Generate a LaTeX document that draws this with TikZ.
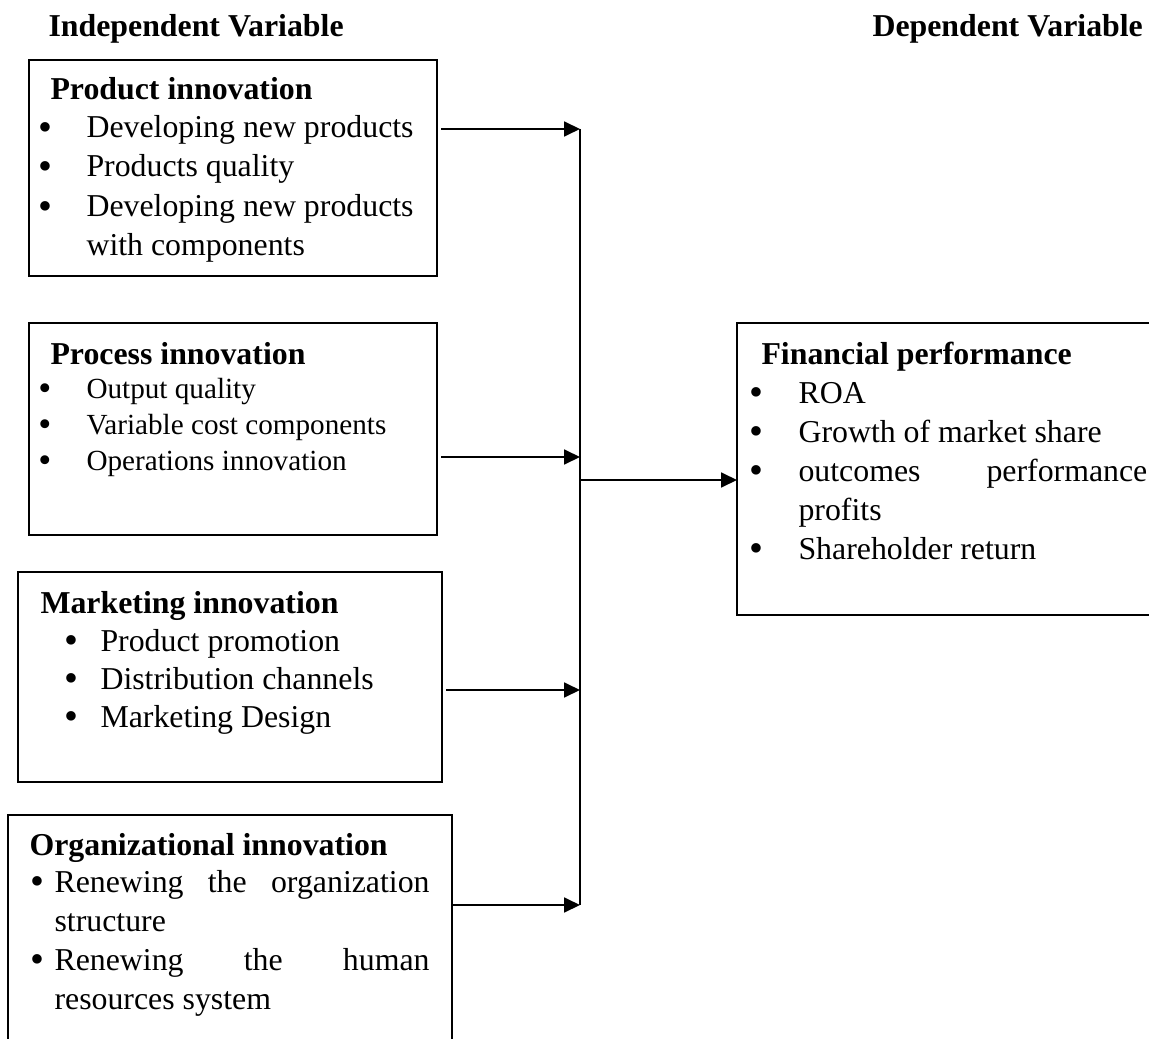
\documentclass[tikz,border=0pt]{standalone}
\usepackage{fontspec}
\setmainfont{Liberation Serif}
\usetikzlibrary{arrows.meta}

\tikzset{
  box/.style={draw, line width=0.7pt},
  conn/.style={line width=0.8pt},
  arr/.style={conn, -{Triangle[length=6pt,width=5.6pt]}},
  txt/.style={anchor=base west, inner sep=0pt, font=\fontsize{12}{14}\selectfont},
  small/.style={txt, font=\fontsize{11}{13}\selectfont},
  hd/.style={txt, font=\fontsize{12}{14}\selectfont\bfseries},
  dot/.style={anchor=base, inner sep=0pt, yshift=-1.1pt, font=\fontsize{15}{14}\selectfont},
  smalldot/.style={dot, font=\fontsize{14}{13}\selectfont}
}

\begin{document}
\begin{tikzpicture}[x=0.377pt,y=-0.377pt]
\clip (0,0) rectangle (1149,1038);

% headings
\node[hd] (indep) at (48,37) {Independent Variable};
\node[hd] (dep) at (872,37) {Dependent Variable};

% product innovation
\draw[box] (29,60) rectangle (437,276);
\node[hd] (prodT) at (50,100) {Product innovation};
\foreach \t/\y [count=\i] in {Developing new products/138,Products quality/177,Developing new products/217}{
  \node[dot] (prodB\i) at (45,\y) {\textbullet};
  \node[txt] (prod\i) at (86,\y) {\t};
}
\node[txt] (prod4) at (86,256) {with components};

% process innovation
\draw[box] (29,323) rectangle (437,535);
\node[hd] (procT) at (50,365) {Process innovation};
\foreach \t/\y [count=\i] in {Output quality/398,Variable cost components/434,Operations innovation/470}{
  \node[smalldot] (procB\i) at (45,\y) {\textbullet};
  \node[small] (proc\i) at (86,\y) {\t};
}

% marketing innovation
\draw[box] (18,572) rectangle (442,782);
\node[hd] (markT) at (40,613) {Marketing innovation};
\foreach \t/\y [count=\i] in {Product promotion/651,Distribution channels/689,Marketing Design/727}{
  \node[dot] (markB\i) at (71,\y) {\textbullet};
  \node[txt] (mark\i) at (100,\y) {\t};
}

% organizational innovation
\draw[box] (8,815) rectangle (452,1060);
\node[hd] (orgT) at (29,855) {Organizational innovation};
\node[dot] (orgB1) at (37,892) {\textbullet};
\node[txt] (org1) at (54,892) {\makebox[141.4pt][s]{Renewing the organization}};
\node[txt] (org2) at (54,931) {structure};
\node[dot] (orgB2) at (37,970) {\textbullet};
\node[txt] (org3) at (54,970) {\makebox[141.4pt][s]{Renewing the human}};
\node[txt] (org4) at (54,1009) {resources system};

% financial performance
\draw[box] (737,323) rectangle (1170,615);
\node[hd] (finT) at (761,365) {Financial performance};
\node[dot] (finB1) at (756,403) {\textbullet};
\node[txt] (fin1) at (798,403) {ROA};
\node[dot] (finB2) at (756,442) {\textbullet};
\node[txt] (fin2) at (798,442) {Growth of market share};
\node[dot] (finB3) at (756,481) {\textbullet};
\node[txt] (fin3) at (798,481) {\makebox[131.5pt][s]{outcomes performance}};
\node[txt] (fin4) at (798,520) {profits};
\node[dot] (finB4) at (756,559) {\textbullet};
\node[txt] (fin5) at (798,559) {Shareholder return};

% connectors
\coordinate (prodR) at (441,129);
\coordinate (procR) at (441,457);
\coordinate (markR) at (446,690);
\coordinate (orgR) at (452,905);
\coordinate (busT) at (580,129);
\coordinate (busB) at (580,905);
\coordinate (busM) at (580,480);
\coordinate (finL) at (737,480);
\draw[arr] (prodR) -- (busT);
\draw[arr] (procR) -- (busT |- procR);
\draw[arr] (markR) -- (busT |- markR);
\draw[arr] (orgR) -- (busB);
\draw[conn] (busT) -- (busB);
\draw[arr] (busM) -- (finL);
\end{tikzpicture}
\end{document}
